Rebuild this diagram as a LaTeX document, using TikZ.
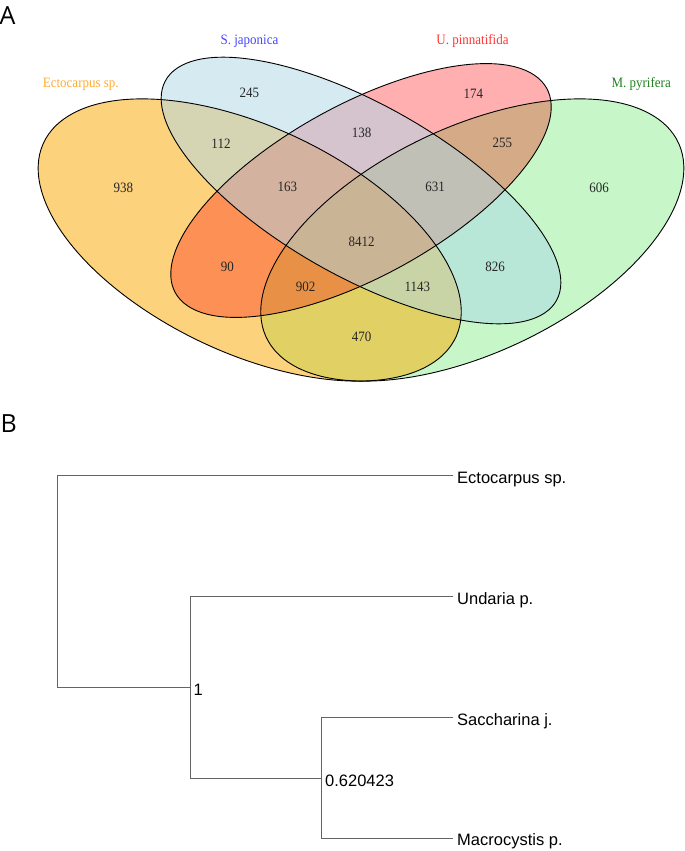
\documentclass[tikz,border=0pt]{standalone}
\usepackage{fontspec}
\usepackage{graphicx}
\setmainfont{Liberation Serif}
\newfontfamily\treefont{Liberation Sans}
\newfontfamily\panelfont{Open Sans}
\definecolor{cO}{RGB}{253,210,125}
\definecolor{cB}{RGB}{213,235,241}
\definecolor{cR}{RGB}{255,175,175}
\definecolor{cG}{RGB}{199,247,201}
\definecolor{cOB}{RGB}{213,213,180}
\definecolor{cOR}{RGB}{253,145,85}
\definecolor{cOG}{RGB}{225,208,100}
\definecolor{cBR}{RGB}{213,196,205}
\definecolor{cBG}{RGB}{184,230,215}
\definecolor{cRG}{RGB}{213,170,135}
\definecolor{cOBR}{RGB}{212,178,160}
\definecolor{cOBG}{RGB}{200,212,165}
\definecolor{cORG}{RGB}{232,145,70}
\definecolor{cBRG}{RGB}{192,192,183}
\definecolor{cOBRG}{RGB}{202,180,150}
\definecolor{tO}{RGB}{255,172,50}
\definecolor{tB}{RGB}{70,70,255}
\definecolor{tR}{RGB}{255,50,50}
\definecolor{tG}{RGB}{30,130,30}
\definecolor{treeline}{RGB}{100,100,100}
\newcommand\vennclip[1]{\clip[#1] (0,0) circle[radius=1];}
\newcommand\vennpaint[1]{\fill[#1] (0,0) rectangle (685,-400);}
\newcommand\venntxt[1]{\scalebox{1}[1.1]{#1}}
\begin{document}
\begin{tikzpicture}[x=1pt,y=1pt,
  eO/.style={cm={183.64,-122.51,104.94,70.00,(249.7,-240)}},
  eB/.style={cm={183.64,-122.51,78.70,52.50,(361,-190.5)}},
  eR/.style={cm={173.14,115.51,-78.70,52.50,(361,-190.5)}},
  eG/.style={cm={183.64,122.51,-104.94,70.00,(472.3,-240)}},
  vline/.style={draw=black,line width=0.9pt},
  num/.style={font=\fontsize{13}{13}\selectfont,inner sep=0pt,text=black!85},
  cat/.style={font=\fontsize{13}{13}\selectfont,inner sep=0pt,anchor=base},
  panel/.style={font=\panelfont\fontsize{25}{25}\selectfont,inner sep=0pt,anchor=base west},
  leaf/.style={font=\treefont\fontsize{16.5}{16.5}\selectfont,inner sep=0pt,anchor=base west},
  tline/.style={draw=treeline,line width=1pt}]
\useasboundingbox (0,0) rectangle (685,-851);
% ---------- Venn regions (painted from single sets up to all four) ----------
\begin{scope}\vennclip{eO}\vennpaint{cO}\end{scope}
\begin{scope}\vennclip{eB}\vennpaint{cB}\end{scope}
\begin{scope}\vennclip{eR}\vennpaint{cR}\end{scope}
\begin{scope}\vennclip{eG}\vennpaint{cG}\end{scope}
\begin{scope}\vennclip{eO}\vennclip{eB}\vennpaint{cOB}\end{scope}
\begin{scope}\vennclip{eO}\vennclip{eR}\vennpaint{cOR}\end{scope}
\begin{scope}\vennclip{eO}\vennclip{eG}\vennpaint{cOG}\end{scope}
\begin{scope}\vennclip{eB}\vennclip{eR}\vennpaint{cBR}\end{scope}
\begin{scope}\vennclip{eB}\vennclip{eG}\vennpaint{cBG}\end{scope}
\begin{scope}\vennclip{eR}\vennclip{eG}\vennpaint{cRG}\end{scope}
\begin{scope}\vennclip{eO}\vennclip{eB}\vennclip{eR}\vennpaint{cOBR}\end{scope}
\begin{scope}\vennclip{eO}\vennclip{eB}\vennclip{eG}\vennpaint{cOBG}\end{scope}
\begin{scope}\vennclip{eO}\vennclip{eR}\vennclip{eG}\vennpaint{cORG}\end{scope}
\begin{scope}\vennclip{eB}\vennclip{eR}\vennclip{eG}\vennpaint{cBRG}\end{scope}
\begin{scope}\vennclip{eO}\vennclip{eB}\vennclip{eR}\vennclip{eG}\vennpaint{cOBRG}\end{scope}
% outlines
\draw[vline,eO] (0,0) circle[radius=1];
\draw[vline,eB] (0,0) circle[radius=1];
\draw[vline,eR] (0,0) circle[radius=1];
\draw[vline,eG] (0,0) circle[radius=1];
% category labels
\node[cat,text=tO] (lO) at (80.8,-87.7) {\venntxt{Ectocarpus sp.}};
\node[cat,text=tB] (lB) at (249.5,-45) {\venntxt{S. japonica}};
\node[cat,text=tR] (lR) at (472.5,-45) {\venntxt{U. pinnatifida}};
\node[cat,text=tG] (lG) at (641.2,-87.7) {\venntxt{M. pyrifera}};
% counts
\node[num] (n245) at (249.3,-93.3) {\venntxt{245}};
\node[num] (n174) at (473.3,-93.3) {\venntxt{174}};
\node[num] (n112) at (221,-143.3) {\venntxt{112}};
\node[num] (n138) at (361.7,-133.3) {\venntxt{138}};
\node[num] (n255) at (502.3,-143.3) {\venntxt{255}};
\node[num] (n938) at (123.3,-187.7) {\venntxt{938}};
\node[num] (n163) at (287.3,-187.3) {\venntxt{163}};
\node[num] (n631) at (435,-187.3) {\venntxt{631}};
\node[num] (n606) at (599,-187.7) {\venntxt{606}};
\node[num] (n8412) at (361.7,-242.3) {\venntxt{8412}};
\node[num] (n90) at (227.3,-266.7) {\venntxt{90}};
\node[num] (n826) at (495,-266.7) {\venntxt{826}};
\node[num] (n902) at (305.7,-287.3) {\venntxt{902}};
\node[num] (n1143) at (417.3,-287.3) {\venntxt{1143}};
\node[num] (n470) at (361.7,-336.7) {\venntxt{470}};
% panel letters
\node[panel] (pA) at (-0.5,-25) {A};
\node[panel] (pB) at (0.5,-432) {B};
% ---------- tree ----------
\coordinate (r1) at (57.7,-475.7);
\coordinate (r2) at (57.7,-687.3);
\coordinate (n1) at (190,-687.3);
\coordinate (n1t) at (190,-596.7);
\coordinate (n1b) at (190,-778.3);
\coordinate (n2) at (321.7,-778.3);
\coordinate (n2t) at (321.7,-717.7);
\coordinate (n2b) at (321.7,-838.3);
\coordinate (t1) at (453.3,-475.7);
\coordinate (t2) at (453.3,-596.7);
\coordinate (t3) at (453.3,-717.7);
\coordinate (t4) at (453.3,-838.3);
\draw[tline] (t1) -- (r1) -- (r2) -- (n1);
\draw[tline] (t2) -- (n1t) -- (n1b) -- (n2);
\draw[tline] (t3) -- (n2t) -- (n2b) -- (t4);
\node[leaf] (ecto) at (457,-483.3) {Ectocarpus sp.};
\node[leaf] (unda) at (457,-604.3) {Undaria p.};
\node[leaf] (sacc) at (457,-725.3) {Saccharina j.};
\node[leaf] (macr) at (457,-845.9) {Macrocystis p.};
\node[leaf] (bs1) at (193.5,-695.3) {1};
\node[leaf] (bs2) at (325,-786.3) {0.620423};
\end{tikzpicture}
\end{document}
